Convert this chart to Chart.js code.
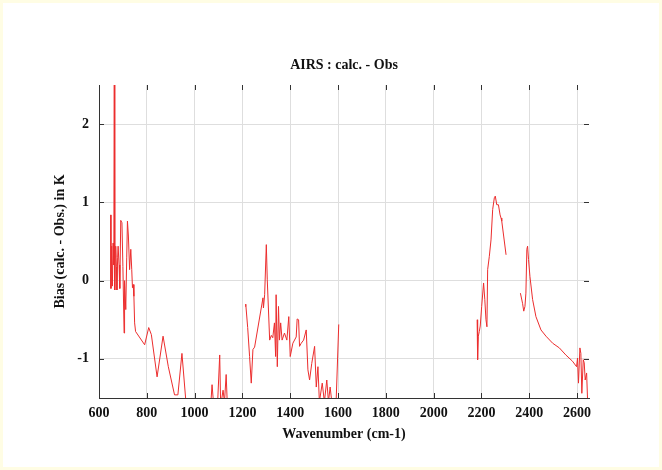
<!DOCTYPE html>
<html>
<head>
<meta charset="utf-8">
<script src="https://cdn.jsdelivr.net/npm/chart.js@4/dist/chart.umd.min.js"></script>
<style>
  html, body { margin: 0; padding: 0; background: #ffffff; }
  #wrap { width: 662px; height: 470px; }
</style>
</head>
<body>
<div id="wrap"><canvas id="c" width="662" height="470"></canvas></div>
<script>
const chartTitle = "AIRS : calc. - Obs";
const xTitle = "Wavenumber (cm-1)";
const yTitle = "Bias (calc. - Obs.) in K";

const xTicks = [600, 800, 1000, 1200, 1400, 1600, 1800, 2000, 2200, 2400, 2600];
const yTicks = [-1, 0, 1, 2];

// wavenumber (cm-1); null bias = gap between channel groups
const wavenumber = [
  649, 650, 653, 656, 659, 662, 664, 666, 668, 670, 673, 675, 678, 680, 684, 687,
  691, 696, 700, 705, 707, 712, 716, 719, 723, 728, 733, 737, 740, 743, 746, 749, 753,
  791, 808, 819, 843, 868, 890, 916, 930, 947, 965, 985, 1010, 1040, 1065,
  1073, 1080, 1095, 1105, 1109, 1119, 1125, 1132, 1137,
  1170,
  1212, 1214, 1222, 1230, 1237, 1244, 1251, 1286, 1288, 1293, 1300, 1304, 1314, 1321,
  1327, 1334, 1339, 1341, 1346, 1351, 1355, 1360, 1366, 1376, 1386, 1394, 1400, 1411,
  1425, 1429, 1435, 1439, 1446, 1456, 1467, 1474, 1481, 1490, 1502, 1509, 1516, 1522,
  1534, 1543, 1553, 1560, 1567, 1574, 1585, 1592, 1603,
  1900,
  2182, 2184, 2187, 2191, 2195, 2201, 2209, 2214, 2219, 2223, 2226, 2233, 2240, 2247,
  2254, 2258, 2264, 2271, 2278, 2282, 2285, 2293, 2303,
  2330,
  2363, 2372, 2377, 2382, 2386, 2390, 2393, 2397, 2403, 2414, 2428, 2449, 2470, 2498,
  2526, 2553, 2581, 2598, 2602, 2606, 2612, 2616, 2620, 2626, 2630, 2634, 2640, 2644,
  2648, 2655
];

const bias = [
  0.84, -0.10, 0.44, -0.07, 0.48, 0.20, 3.20, -0.12, 0.30, 0.44, 0.18, -0.12, 0.30, 0.44, 0.20, -0.10,
  0.77, 0.74, 0.18, -0.67, 0.00, -0.37, 0.30, 0.76, 0.57, 0.14, 0.40, 0.14, -0.09, -0.05, -0.20, -0.54, -0.65,
  -0.82, -0.60, -0.69, -1.23, -0.71, -1.10, -1.46, -1.46, -0.93, -1.60, -1.90, -2.00, -1.90, -1.70,
  -1.33, -1.60, -1.65, -0.95, -1.60, -1.40, -1.55, -1.20, -1.60,
  null,
  -0.33, -0.30, -0.60, -0.97, -1.31, -0.88, -0.85, -0.22, -0.35, -0.18, 0.46, 0.01, -0.76, -0.70,
  -0.73, -0.54, -0.97, -0.18, -1.10, -0.33, -0.76, -0.54, -0.76, -0.67, -0.76, -0.46, -0.97, -0.80,
  -0.72, -0.49, -0.50, -0.84, -0.80, -0.76, -0.63, -1.14, -1.27, -1.06, -0.84, -1.36, -1.10, -1.55,
  -1.31, -1.55, -1.27, -1.55, -1.36, -1.55, -1.60, -1.55, -0.56,
  null,
  -0.50, -1.01, -0.71, -0.65, -0.58, -0.33, -0.03, -0.24, -0.50, -0.59, 0.14, 0.31, 0.52, 0.91,
  1.06, 1.08, 0.97, 0.97, 0.84, 0.80, 0.76, 0.57, 0.33,
  null,
  -0.16, -0.29, -0.39, -0.33, -0.16, 0.40, 0.44, 0.27, 0.05, -0.24, -0.46, -0.63, -0.71, -0.80,
  -0.86, -0.95, -1.03, -1.10, -0.99, -1.31, -0.86, -0.93, -1.44, -1.01, -1.05, -1.27, -1.18, -1.52,
  -1.65, -1.80
];

const FONT = { family: "'Liberation Serif', 'DejaVu Serif', serif", size: 14, weight: 'bold' };
const FONT_CSS = "bold 14px 'Liberation Serif', 'DejaVu Serif', serif";
const TEXT = '#111111';

const points = wavenumber.map((w, i) => ({ x: w, y: bias[i] }));

const pageBg = {
  id: 'pageBg',
  beforeDraw(chart) {
    const ctx = chart.ctx;
    ctx.save();
    ctx.fillStyle = '#fffde4';
    ctx.fillRect(0, 0, chart.width, chart.height);
    ctx.fillStyle = '#ffffff';
    ctx.fillRect(3, 3, chart.width - 6, chart.height - 6);
    ctx.restore();
  }
};

// Title centred over the plot area (gnuplot style)
const plotTitle = {
  id: 'plotTitle',
  afterDraw(chart) {
    const { ctx, chartArea: a } = chart;
    ctx.save();
    ctx.font = FONT_CSS;
    ctx.fillStyle = TEXT;
    ctx.textAlign = 'center';
    ctx.textBaseline = 'middle';
    ctx.fillText(chartTitle, (a.left + a.right) / 2, 65);
    ctx.restore();
  }
};

const innerTicks = {
  id: 'innerTicks',
  afterDraw(chart) {
    const { ctx, chartArea: a, scales } = chart;
    const L = 5;
    ctx.save();
    ctx.strokeStyle = '#333333';
    ctx.lineWidth = 1;
    ctx.beginPath();
    xTicks.forEach(v => {
      const p = Math.round(scales.x.getPixelForValue(v)) + 0.5;
      ctx.moveTo(p, a.bottom); ctx.lineTo(p, a.bottom - L);
      ctx.moveTo(p, a.top); ctx.lineTo(p, a.top + L);
    });
    yTicks.forEach(v => {
      const p = Math.round(scales.y.getPixelForValue(v)) + 0.5;
      ctx.moveTo(a.left, p); ctx.lineTo(a.left + L, p);
      ctx.moveTo(a.right, p); ctx.lineTo(a.right - L, p);
    });
    ctx.stroke();
    ctx.restore();
  }
};

new Chart(document.getElementById('c'), {
  type: 'line',
  data: {
    datasets: [{
      data: points,
      borderColor: 'rgb(236,45,45)',
      borderWidth: 1,
      pointRadius: 0,
      tension: 0,
      spanGaps: false,
      fill: false
    }]
  },
  options: {
    responsive: false,
    animation: false,
    events: [],
    layout: { padding: { left: 0, right: 73, top: 85, bottom: 0 } },
    plugins: {
      legend: { display: false },
      tooltip: { enabled: false },
      title: { display: false }
    },
    scales: {
      x: {
        type: 'linear',
        min: 600,
        max: 2650,
        afterBuildTicks: s => { s.ticks = xTicks.map(v => ({ value: v })); },
        afterFit: s => { s.height = 72; },
        ticks: { font: FONT, color: TEXT, padding: 7, maxRotation: 0, autoSkip: false,
                 callback: v => String(v) },
        grid: { color: '#dedede', lineWidth: 1, drawTicks: false },
        border: { color: '#333333', width: 1 },
        title: { display: true, text: xTitle, font: FONT, color: TEXT, padding: { top: 0, bottom: 27 } }
      },
      y: {
        type: 'linear',
        min: -1.5,
        max: 2.5,
        afterBuildTicks: s => { s.ticks = yTicks.map(v => ({ value: v })); },
        afterFit: s => { s.width = 99; },
        ticks: { font: FONT, color: TEXT, padding: 10, callback: v => String(v) },
        grid: { color: '#dedede', lineWidth: 1, drawTicks: false },
        border: { color: '#333333', width: 1 },
        title: { display: true, text: yTitle, font: FONT, color: TEXT, padding: { top: 52, bottom: 0 } }
      }
    }
  },
  plugins: [pageBg, plotTitle, innerTicks]
});
</script>
</body>
</html>
